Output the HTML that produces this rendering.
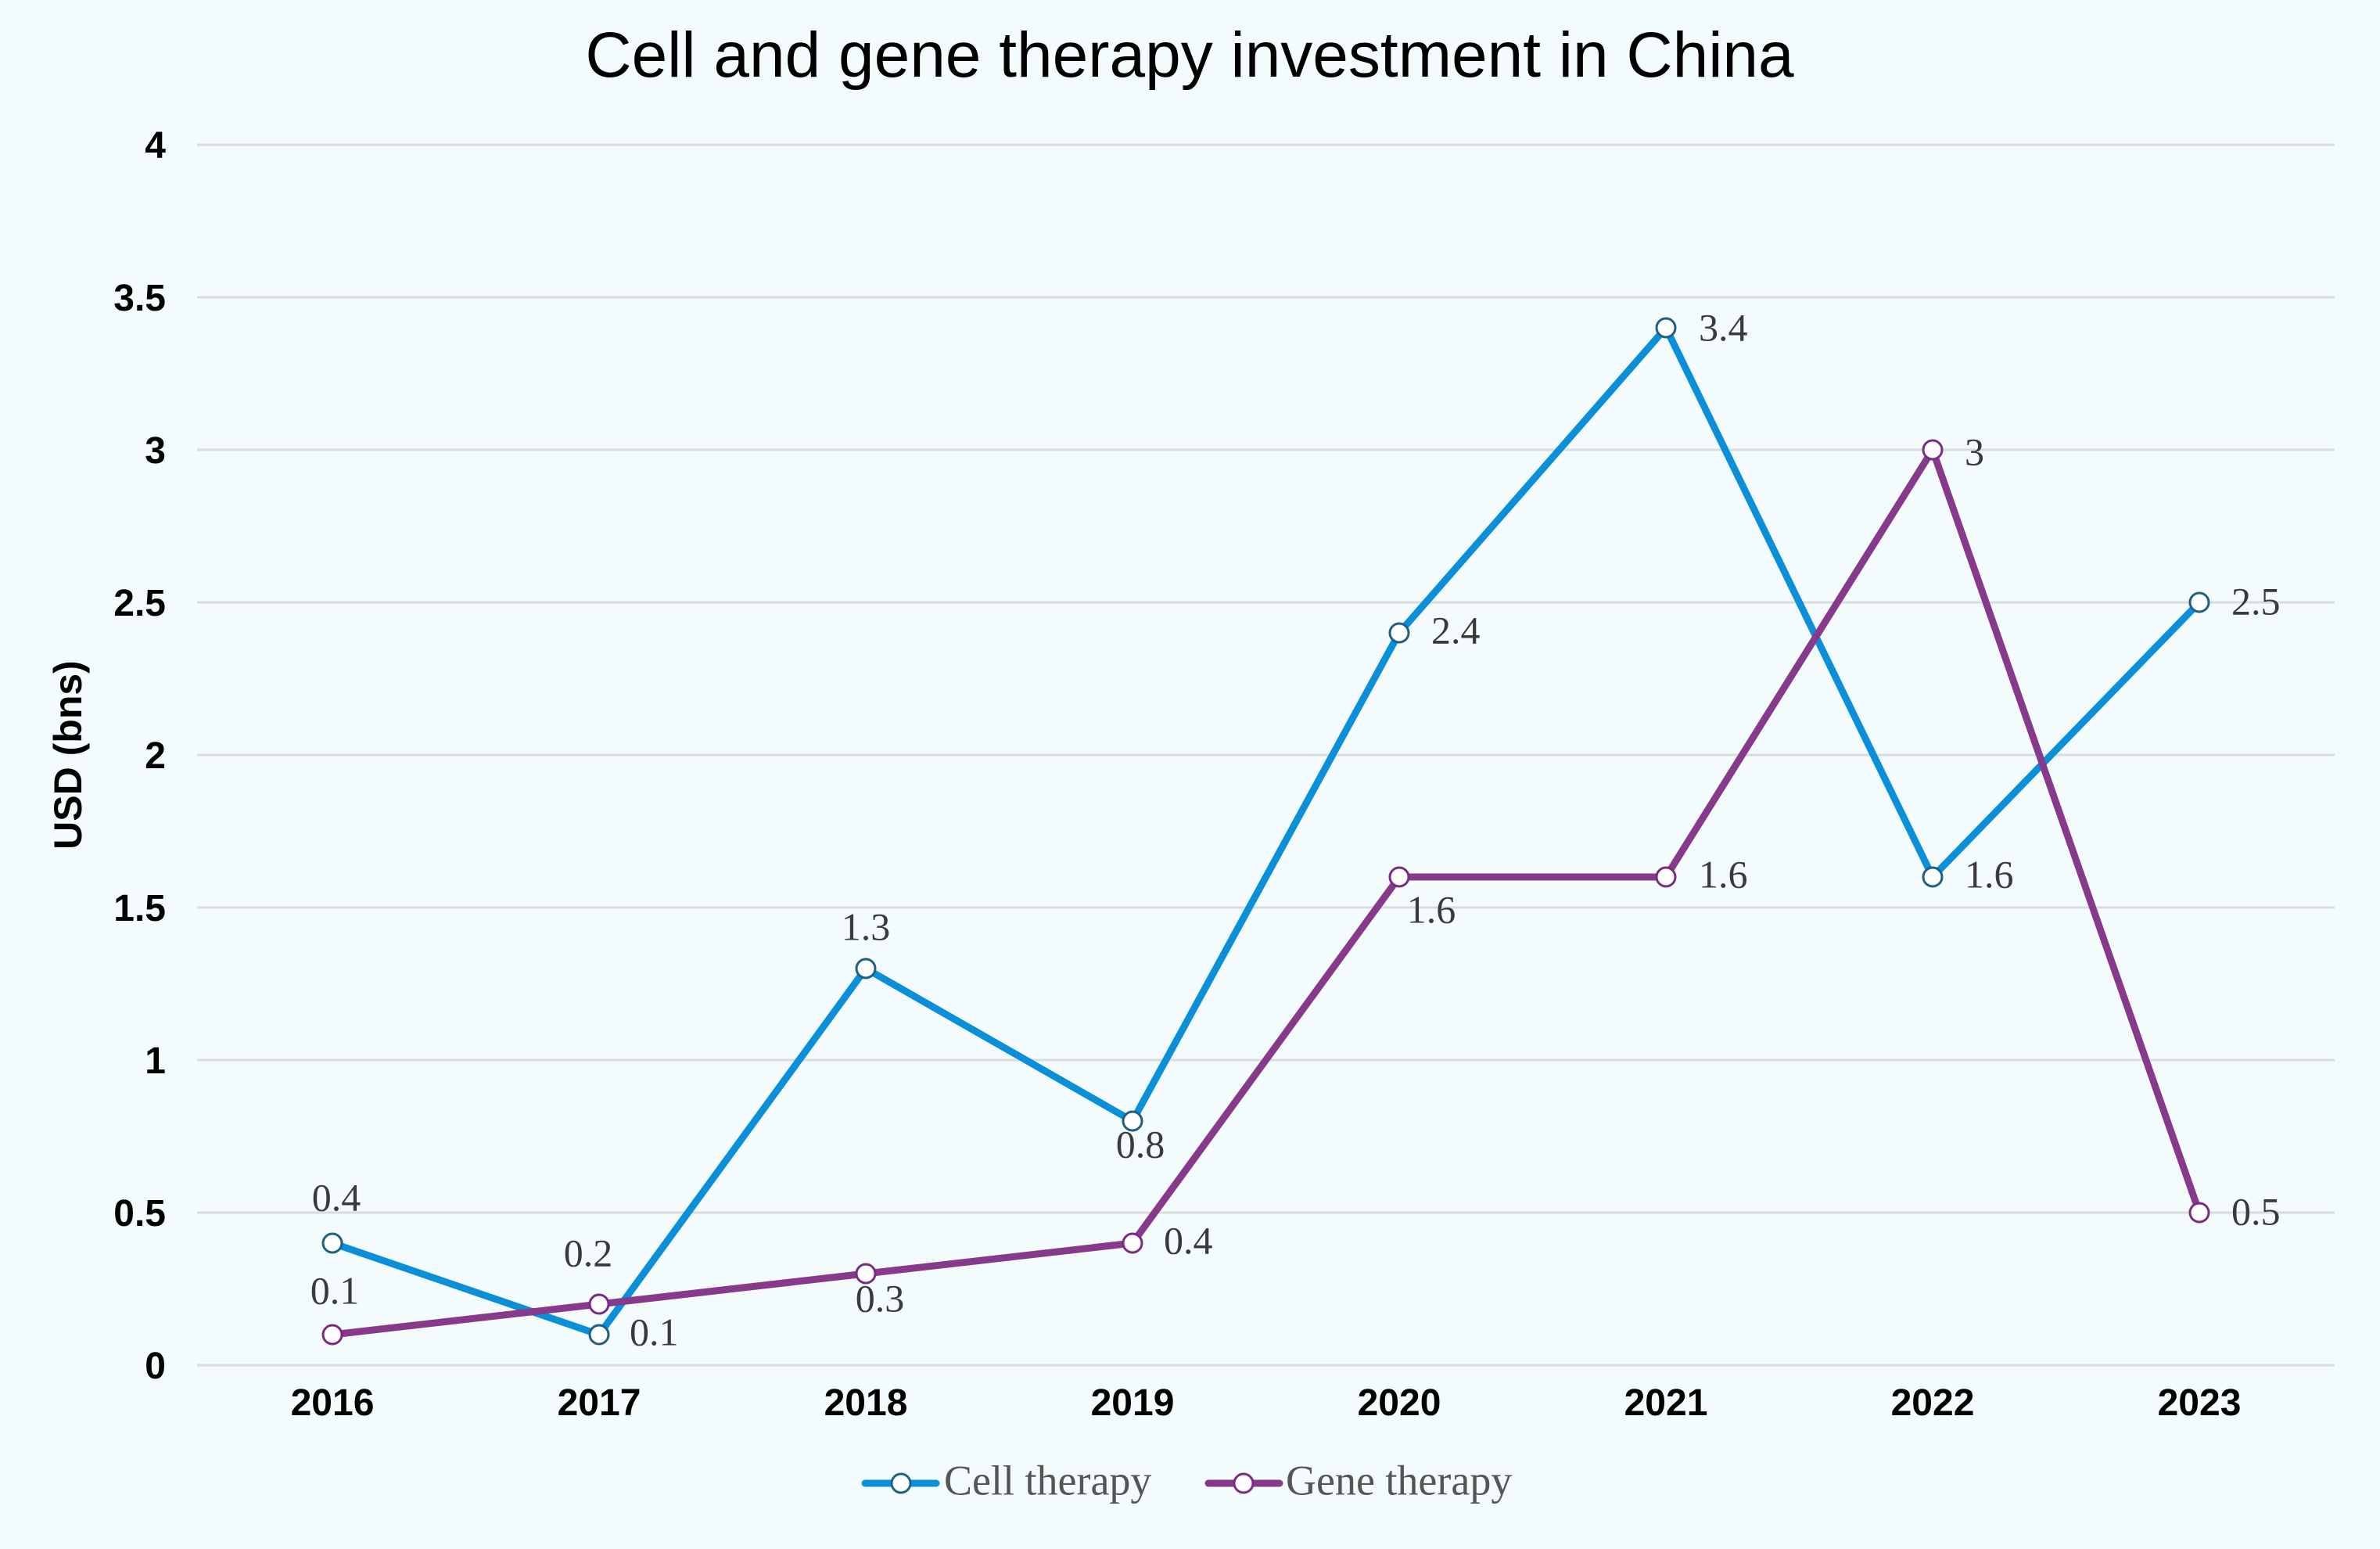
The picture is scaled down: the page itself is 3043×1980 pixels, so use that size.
<!DOCTYPE html>
<html><head><meta charset="utf-8"><style>
html,body{margin:0;padding:0;background:#f3fbfd;}
svg{display:block}
.yt{font-family:"Liberation Sans",sans-serif;font-size:48px;fill:#000;text-anchor:end;font-weight:bold}
.xt{font-family:"Liberation Sans",sans-serif;font-size:48px;fill:#000;text-anchor:middle;font-weight:bold}
.dl{font-family:"Liberation Serif",serif;font-size:50px;fill:#3a3a3a;dominant-baseline:middle}
.lg{font-family:"Liberation Serif",serif;font-size:54px;fill:#555;dominant-baseline:middle}
</style></head><body>
<svg width="3043" height="1980" viewBox="0 0 3043 1980" xmlns="http://www.w3.org/2000/svg">
<rect width="3043" height="1980" fill="#f3fbfd"/>
<text x="1521" y="98" text-anchor="middle" font-family="Liberation Sans, sans-serif" font-size="82" fill="#000">Cell and gene therapy investment in China</text>
<g stroke="#d8dcdf" stroke-width="3">
<line x1="252" x2="2985" y1="185" y2="185"/>
<line x1="252" x2="2985" y1="380" y2="380"/>
<line x1="252" x2="2985" y1="575" y2="575"/>
<line x1="252" x2="2985" y1="770" y2="770"/>
<line x1="252" x2="2985" y1="965" y2="965"/>
<line x1="252" x2="2985" y1="1160" y2="1160"/>
<line x1="252" x2="2985" y1="1355" y2="1355"/>
<line x1="252" x2="2985" y1="1550" y2="1550"/>
<line x1="252" x2="2985" y1="1745" y2="1745"/>
</g>
<g class="yt">
<text x="212" y="202">4</text><text x="212" y="397">3.5</text><text x="212" y="592">3</text>
<text x="212" y="787">2.5</text><text x="212" y="982">2</text><text x="212" y="1177">1.5</text>
<text x="212" y="1372">1</text><text x="212" y="1567">0.5</text><text x="212" y="1762">0</text>
</g>
<text transform="translate(104,965) rotate(-90)" text-anchor="middle" font-family="Liberation Sans, sans-serif" font-size="50" font-weight="bold" fill="#000">USD (bns)</text>
<g class="xt">
<text x="425" y="1809">2016</text><text x="766" y="1809">2017</text><text x="1107" y="1809">2018</text>
<text x="1448" y="1809">2019</text><text x="1789" y="1809">2020</text><text x="2130" y="1809">2021</text>
<text x="2471" y="1809">2022</text><text x="2812" y="1809">2023</text>
</g>
<polyline fill="none" stroke="#0a8fd8" stroke-width="9" stroke-linejoin="round" points="425,1589 766,1706 1107,1238 1448,1433 1789,809 2130,419 2471,1121 2812,770"/>
<polyline fill="none" stroke="#873a8b" stroke-width="9" stroke-linejoin="round" points="425,1706 766,1667 1107,1628 1448,1589 1789,1121 2130,1121 2471,575 2812,1550"/>
<g fill="#fff" stroke="#1f5f82" stroke-width="3">
<circle cx="425" cy="1589" r="12"/><circle cx="766" cy="1706" r="12"/><circle cx="1107" cy="1238" r="12"/><circle cx="1448" cy="1433" r="12"/><circle cx="1789" cy="809" r="12"/><circle cx="2130" cy="419" r="12"/><circle cx="2471" cy="1121" r="12"/><circle cx="2812" cy="770" r="12"/>
</g>
<g fill="#fff" stroke="#7a2c83" stroke-width="3">
<circle cx="425" cy="1706" r="12"/><circle cx="766" cy="1667" r="12"/><circle cx="1107" cy="1628" r="12"/><circle cx="1448" cy="1589" r="12"/><circle cx="1789" cy="1121" r="12"/><circle cx="2130" cy="1121" r="12"/><circle cx="2471" cy="575" r="12"/><circle cx="2812" cy="1550" r="12"/>
</g>
<g class="dl">
<text x="430" y="1536" text-anchor="middle">0.4</text>
<text x="805" y="1708">0.1</text>
<text x="1107" y="1190" text-anchor="middle">1.3</text>
<text x="1458" y="1468" text-anchor="middle">0.8</text>
<text x="1830" y="811">2.4</text>
<text x="2172" y="424">3.4</text>
<text x="2512" y="1123">1.6</text>
<text x="2853" y="774">2.5</text>
<text x="428" y="1655" text-anchor="middle">0.1</text>
<text x="752" y="1607" text-anchor="middle">0.2</text>
<text x="1125" y="1665" text-anchor="middle">0.3</text>
<text x="1488" y="1591">0.4</text>
<text x="1830" y="1168" text-anchor="middle">1.6</text>
<text x="2172" y="1123">1.6</text>
<text x="2512" y="583">3</text>
<text x="2853" y="1554">0.5</text>
</g>
<line x1="1106" x2="1197" y1="1896" y2="1896" stroke="#0a8fd8" stroke-width="9" stroke-linecap="round"/>
<circle cx="1152" cy="1896" r="12" fill="#fff" stroke="#1f5f82" stroke-width="3"/>
<text x="1207" y="1898" class="lg">Cell therapy</text>
<line x1="1545" x2="1636" y1="1896" y2="1896" stroke="#873a8b" stroke-width="9" stroke-linecap="round"/>
<circle cx="1590" cy="1896" r="12" fill="#fff" stroke="#7a2c83" stroke-width="3"/>
<text x="1644" y="1898" class="lg">Gene therapy</text>
</svg>
</body></html>
